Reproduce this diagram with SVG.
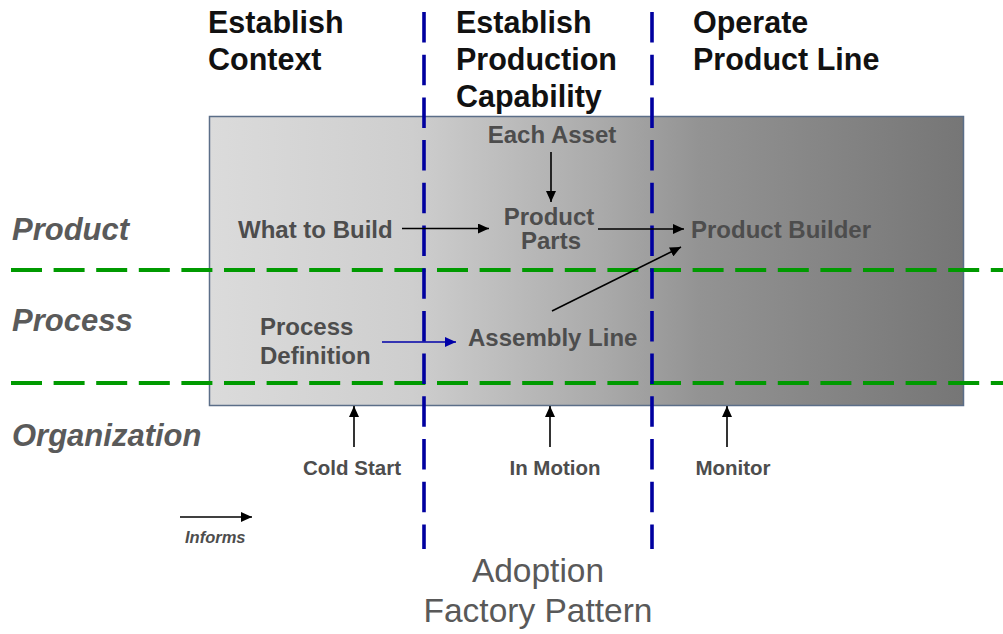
<svg xmlns="http://www.w3.org/2000/svg" width="1003" height="634" viewBox="0 0 1003 634">
<defs>
<linearGradient id="bg" x1="0" y1="0" x2="1" y2="0">
<stop offset="0" stop-color="#dbdbdb"/>
<stop offset="0.27" stop-color="#cecece"/>
<stop offset="0.52" stop-color="#aaaaaa"/>
<stop offset="0.65" stop-color="#939393"/>
<stop offset="1" stop-color="#767676"/>
</linearGradient>
<marker id="ah" markerUnits="userSpaceOnUse" markerWidth="12" markerHeight="10" refX="11" refY="5" orient="auto">
<path d="M0,0 L11,5 L0,10 Z" fill="#000"/>
</marker>
<marker id="ahb" markerUnits="userSpaceOnUse" markerWidth="12" markerHeight="10" refX="11" refY="5" orient="auto">
<path d="M0,0 L11,5 L0,10 Z" fill="#0000a8"/>
</marker>
</defs>
<style>
.hd{font-family:"Liberation Sans",Arial,sans-serif;font-weight:bold;font-size:30.5px;fill:#111}
.row{font-family:"Liberation Sans",Arial,sans-serif;font-weight:bold;font-style:italic;font-size:31px;fill:#5a5a5a}
.nd{font-family:"Liberation Sans",Arial,sans-serif;font-weight:bold;font-size:24px;fill:#4d4d4d}
.sm{font-family:"Liberation Sans",Arial,sans-serif;font-weight:bold;font-size:20.5px;fill:#4d4d4d}
.lg{font-family:"Liberation Sans",Arial,sans-serif;font-weight:bold;font-style:italic;font-size:16.5px;fill:#4d4d4d}
.ti{font-family:"Liberation Sans",Arial,sans-serif;font-size:33.5px;fill:#595959}
.arr{stroke:#000;stroke-width:1.6;fill:none;marker-end:url(#ah)}
.arrb{stroke:#0000a8;stroke-width:1.6;fill:none;marker-end:url(#ahb)}
.gl{stroke:#009a00;stroke-width:4;stroke-dasharray:31 11.6;fill:none}
.bl{stroke:#0000a0;stroke-width:3.6;stroke-dasharray:30.5 12.2;fill:none}
</style>
<g id="frame">
<rect x="209.5" y="116.5" width="754" height="289" fill="url(#bg)" stroke="#5b6e88" stroke-width="1.5"/>
</g>
<g id="swimlanes">
<line class="gl" x1="11" y1="270" x2="1003" y2="270"/>
<line class="gl" x1="11" y1="383" x2="1003" y2="383"/>
<line class="bl" x1="424" y1="12" x2="424" y2="549"/>
<line class="bl" x1="652" y1="12" x2="652" y2="549"/>
</g>
<g id="headings">
<text class="hd" x="208" y="33">Establish</text>
<text class="hd" x="208" y="70">Context</text>
<text class="hd" x="456" y="33">Establish</text>
<text class="hd" x="456" y="70">Production</text>
<text class="hd" x="456" y="107">Capability</text>
<text class="hd" x="693" y="33">Operate</text>
<text class="hd" x="693" y="70">Product Line</text>
</g>
<g id="rows">
<text class="row" x="12" y="240">Product</text>
<text class="row" x="12" y="331">Process</text>
<text class="row" x="12" y="446">Organization</text>
</g>
<g id="node-what-to-build"><text class="nd" x="238" y="238">What to Build</text></g>
<g id="node-each-asset"><text class="nd" x="552" y="143" text-anchor="middle">Each Asset</text></g>
<g id="node-product-parts"><text class="nd" x="549" y="225" text-anchor="middle">Product</text><text class="nd" x="551" y="249" text-anchor="middle">Parts</text></g>
<g id="node-product-builder"><text class="nd" x="691" y="238">Product Builder</text></g>
<g id="node-process-definition"><text class="nd" x="260" y="335">Process</text><text class="nd" x="260" y="364">Definition</text></g>
<g id="node-assembly-line"><text class="nd" x="468" y="346">Assembly Line</text></g>
<g id="node-cold-start"><text class="sm" x="352" y="475" text-anchor="middle">Cold Start</text></g>
<g id="node-in-motion"><text class="sm" x="555" y="475" text-anchor="middle">In Motion</text></g>
<g id="node-monitor"><text class="sm" x="733" y="475" text-anchor="middle">Monitor</text></g>
<g id="legend"><line class="arr" x1="180" y1="517" x2="252" y2="517"/><text class="lg" x="185" y="543">Informs</text></g>
<g id="title"><text class="ti" x="538" y="582" text-anchor="middle">Adoption</text><text class="ti" x="538" y="622" text-anchor="middle">Factory Pattern</text></g>
<g id="connectors">
<line class="arr" x1="551" y1="152" x2="551" y2="202"/>
<line class="arr" x1="402" y1="228.5" x2="489" y2="228.5"/>
<line class="arr" x1="598" y1="229" x2="684" y2="229"/>
<line class="arr" x1="552" y1="311" x2="681" y2="247"/>
<line class="arrb" x1="382" y1="342" x2="456" y2="342"/>
<line class="arr" x1="354" y1="447" x2="354" y2="406"/>
<line class="arr" x1="550" y1="447" x2="550" y2="406"/>
<line class="arr" x1="727" y1="447" x2="727" y2="406"/>
</g>
</svg>
